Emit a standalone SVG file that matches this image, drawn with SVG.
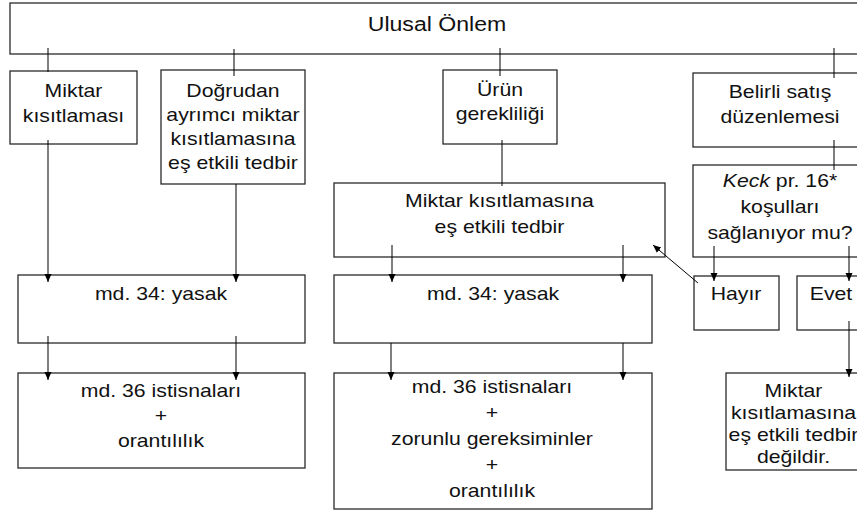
<svg xmlns="http://www.w3.org/2000/svg" width="857" height="510" viewBox="0 0 857 510">
<style>
.box{fill:#fff;stroke:#2a2a2a;stroke-width:1.3}
.t{font-family:"Liberation Sans",Arial,sans-serif;font-size:18.8px;fill:#111;text-anchor:middle}
.title{font-size:21px}
.c{stroke:#000;stroke-width:1;fill:none}
.a{marker-end:url(#ah)}
</style>
<defs>
<marker id="ah" markerUnits="userSpaceOnUse" markerWidth="9" markerHeight="8" refX="8" refY="3.5" orient="auto">
<path d="M0,0 L8,3.5 L0,7 z" fill="#000"/>
</marker>
</defs>
<rect width="857" height="510" fill="#fff"/>

<g id="n-ulusal">
<rect class="box" x="10" y="3" width="860" height="51"/>
<text class="t title" transform="translate(437 0) scale(1.1 1)"><tspan x="0" y="31">Ulusal Önlem</tspan></text>
</g>

<g id="n-miktar">
<rect class="box" x="10" y="71" width="127" height="73"/>
<text class="t" transform="translate(73.5 0) scale(1.13 1)"><tspan x="0" y="97">Miktar</tspan><tspan x="0" y="122">kısıtlaması</tspan></text>
</g>

<g id="n-dogrudan">
<rect class="box" x="161" y="70" width="144" height="114"/>
<text class="t" transform="translate(233 0) scale(1.13 1)"><tspan x="0" y="97">Doğrudan</tspan><tspan x="0" y="121">ayrımcı miktar</tspan><tspan x="0" y="145">kısıtlamasına</tspan><tspan x="0" y="169">eş etkili tedbir</tspan></text>
</g>

<g id="n-urun">
<rect class="box" x="443" y="70" width="114" height="74"/>
<text class="t" transform="translate(500 0) scale(1.13 1)"><tspan x="0" y="96">Ürün</tspan><tspan x="0" y="120">gerekliliği</tspan></text>
</g>

<g id="n-belirli">
<rect class="box" x="693" y="73" width="180" height="74"/>
<text class="t" transform="translate(780 0) scale(1.13 1)"><tspan x="0" y="98">Belirli satış</tspan><tspan x="0" y="123">düzenlemesi</tspan></text>
</g>

<g id="n-keck">
<rect class="box" x="693" y="165" width="180" height="92"/>
<text class="t" transform="translate(780 0) scale(1.13 1)"><tspan x="0" y="187"><tspan font-style="italic">Keck</tspan> pr. 16*</tspan><tspan x="0" y="213">koşulları</tspan><tspan x="0" y="239">sağlanıyor mu?</tspan></text>
</g>

<g id="n-mees">
<rect class="box" x="334" y="183" width="331" height="74"/>
<text class="t" transform="translate(499.5 0) scale(1.13 1)"><tspan x="0" y="207">Miktar kısıtlamasına</tspan><tspan x="0" y="233">eş etkili tedbir</tspan></text>
</g>

<g id="n-hayir">
<rect class="box" x="694" y="276" width="85" height="54"/>
<text class="t" transform="translate(736 0) scale(1.13 1)"><tspan x="0" y="300">Hayır</tspan></text>
</g>

<g id="n-evet">
<rect class="box" x="797" y="276" width="80" height="54"/>
<text class="t" transform="translate(831 0) scale(1.13 1)"><tspan x="0" y="300">Evet</tspan></text>
</g>

<g id="n-md34-left">
<rect class="box" x="18" y="275" width="287" height="68"/>
<text class="t" transform="translate(161 0) scale(1.13 1)"><tspan x="0" y="300">md. 34: yasak</tspan></text>
</g>

<g id="n-md34-mid">
<rect class="box" x="334" y="275" width="318" height="68"/>
<text class="t" transform="translate(493 0) scale(1.13 1)"><tspan x="0" y="300">md. 34: yasak</tspan></text>
</g>

<g id="n-md36-left">
<rect class="box" x="18" y="373" width="287" height="95"/>
<text class="t" transform="translate(161 0) scale(1.13 1)"><tspan x="0" y="397">md. 36 istisnaları</tspan><tspan x="0" y="422">+</tspan><tspan x="0" y="447">orantılılık</tspan></text>
</g>

<g id="n-md36-mid">
<rect class="box" x="334" y="373" width="318" height="136"/>
<text class="t" transform="translate(492 0) scale(1.13 1)"><tspan x="0" y="393">md. 36 istisnaları</tspan><tspan x="0" y="419">+</tspan><tspan x="0" y="445">zorunlu gereksiminler</tspan><tspan x="0" y="471">+</tspan><tspan x="0" y="497">orantılılık</tspan></text>
</g>

<g id="n-degil">
<rect class="box" x="726" y="373" width="150" height="97"/>
<text class="t" transform="translate(793.5 0) scale(1.13 1)"><tspan x="0" y="397">Miktar</tspan><tspan x="0" y="419">kısıtlamasına</tspan><tspan x="0" y="441">eş etkili tedbir</tspan><tspan x="0" y="463">değildir.</tspan></text>
</g>

<g id="connectors">
<line class="c" x1="48" y1="48" x2="48" y2="72"/>
<line class="c" x1="234" y1="49" x2="234" y2="76"/>
<line class="c" x1="500" y1="48" x2="500" y2="76"/>
<line class="c" x1="834" y1="48" x2="834" y2="78"/>
<line class="c" x1="834" y1="140" x2="834" y2="170"/>
<line class="c" x1="502" y1="140" x2="502" y2="186"/>
<line class="c a" x1="48" y1="140" x2="48" y2="282"/>
<line class="c a" x1="236" y1="184" x2="236" y2="282"/>
<line class="c a" x1="48" y1="336" x2="48" y2="380"/>
<line class="c a" x1="236" y1="336" x2="236" y2="380"/>
<line class="c a" x1="392" y1="245" x2="392" y2="282"/>
<line class="c a" x1="623" y1="245" x2="623" y2="282"/>
<line class="c a" x1="391" y1="343" x2="391" y2="380"/>
<line class="c a" x1="623" y1="343" x2="623" y2="380"/>
<line class="c a" x1="714" y1="246" x2="714" y2="281"/>
<line class="c a" x1="849" y1="246" x2="849" y2="281"/>
<line class="c a" x1="849" y1="321" x2="849" y2="377"/>
<line class="c a" x1="698" y1="283" x2="653" y2="245"/>
</g>
</svg>
